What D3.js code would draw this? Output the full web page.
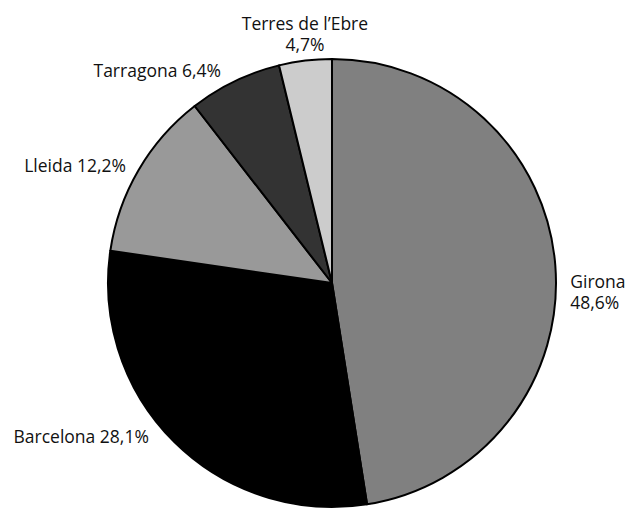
<!DOCTYPE html>
<html>
<head>
<meta charset="utf-8">
<script src="https://cdn.jsdelivr.net/npm/d3@7"></script>
<style>
  body { margin: 0; background: #fff; }
  text { font-family: "Open Sans", Lato, sans-serif; font-size: 17.5px; fill: #111; }
</style>
</head>
<body>
<div id="chart"></div>
<script>
const regions = ["Girona", "Barcelona", "Lleida", "Tarragona", "Terres de l\u2019Ebre"];
// slice sizes as drawn in the picture (the printed labels differ slightly)
const sliceShares = [47.5, 29.8, 12.2, 6.7, 3.8];
const shareLabels = ["48,6%", "28,1%", "12,2%", "6,4%", "4,7%"];
const fills = ["#808080", "#000000", "#999999", "#333333", "#cccccc"];

// label placement: radius, anchor, nudges, split onto two lines or not
const labelLayout = [
  { r: 239, anchor: "start",  dx: 0,   dy: 24,  twoLines: true },
  { r: 235, anchor: "end",    dx: -18, dy: -7,  twoLines: false },
  { r: 235, anchor: "end",    dx: -3,  dy: 7,   twoLines: false },
  { r: 235, anchor: "end",    dx: -9,  dy: 6,   twoLines: false },
  { r: 240, anchor: "middle", dx: 1.5, dy: -15, twoLines: true }
];

const width = 627, height = 509;
const cx = 332, cy = 283, radius = 224;

const svg = d3.select("#chart").append("svg")
  .attr("width", width)
  .attr("height", height);

const g = svg.append("g").attr("transform", `translate(${cx},${cy})`);

const pie = d3.pie().sort(null).value(d => d);
const arcs = pie(sliceShares);

const arc = d3.arc().innerRadius(0).outerRadius(radius);

g.selectAll("path")
  .data(arcs)
  .enter()
  .append("path")
  .attr("d", arc)
  .attr("fill", (d, i) => fills[i])
  .attr("stroke", "#000")
  .attr("stroke-width", 2)
  .attr("stroke-linejoin", "round");

const labels = g.selectAll("text.label")
  .data(arcs)
  .enter()
  .append("text")
  .attr("class", "label")
  .attr("text-anchor", (d, i) => labelLayout[i].anchor)
  .attr("transform", (d, i) => {
    const L = labelLayout[i];
    const a = (d.startAngle + d.endAngle) / 2;
    const x = Math.sin(a) * L.r + L.dx;
    const y = -Math.cos(a) * L.r + L.dy;
    return `translate(${x},${y})`;
  });

labels.each(function(d, i) {
  const t = d3.select(this);
  if (labelLayout[i].twoLines) {
    t.append("tspan").attr("x", 0).attr("dy", 0).text(regions[i]);
    t.append("tspan").attr("x", 0).attr("dy", 21).text(shareLabels[i]);
  } else {
    t.text(regions[i] + " " + shareLabels[i]);
  }
});
</script>
</body>
</html>
